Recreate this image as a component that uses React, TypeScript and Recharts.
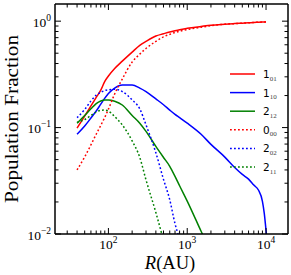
import React from 'react';
import { LineChart, Line, XAxis, YAxis, Legend } from 'recharts';

// ---------- data ----------
const rGrid = [40, 50, 60, 70, 80, 90, 100, 120, 150, 200, 250, 300, 400, 500, 600, 700, 800, 1000, 1500, 2000, 3000, 4000, 5000, 6000, 7000, 8000, 9000, 10000];
const blueR = [40, 50, 60, 70, 80, 90, 100, 120, 150, 200, 250, 300, 400, 500, 600, 700, 800, 1000, 1500, 2000, 3000, 4000, 5000, 6000, 7000, 8000, 9000, 9500, 9800, 10000, 10100, 10200];

const frac101 = [0.099, 0.128, 0.160, 0.192, 0.225, 0.272, 0.305, 0.359, 0.421, 0.512, 0.592, 0.645, 0.725, 0.762, 0.792, 0.814, 0.832, 0.856, 0.892, 0.917, 0.937, 0.949, 0.958, 0.965, 0.972, 0.977, 0.981, 0.985];
const frac000 = [0.040, 0.053, 0.0688, 0.0866, 0.105, 0.125, 0.149, 0.207, 0.286, 0.413, 0.490, 0.554, 0.646, 0.713, 0.752, 0.783, 0.805, 0.834, 0.877, 0.907, 0.937, 0.949, 0.958, 0.965, 0.972, 0.977, 0.981, 0.985];
const frac110 = [0.0866, 0.1035, 0.123, 0.143, 0.166, 0.189, 0.209, 0.235, 0.251, 0.251, 0.235, 0.218, 0.186, 0.164, 0.146, 0.133, 0.124, 0.110, 0.0865, 0.0695, 0.0528, 0.0421, 0.0363, 0.0328, 0.0288, 0.0259, 0.0203, 0.0156, 0.0126, 0.0108, 0.0099, 0.0085];
const frac202 = [0.124, 0.148, 0.178, 0.202, 0.214, 0.223, 0.226, 0.229, 0.218, 0.182, 0.150, 0.106, 0.058, 0.0326, 0.021, 0.0125, 0.0090];
const frac212 = [0.110, 0.130, 0.150, 0.168, 0.178, 0.182, 0.182, 0.177, 0.163, 0.130, 0.110, 0.0921, 0.0665, 0.0524, 0.0433, 0.0348, 0.0284, 0.0204, 0.0106, 0.0067];
const frac211 = [0.112, 0.119, 0.130, 0.140, 0.145, 0.146, 0.143, 0.127, 0.106, 0.075, 0.0524, 0.0322, 0.0159, 0.0087];

const xTicks = [30, 40, 50, 60, 70, 80, 90, 100, 200, 300, 400, 500, 600, 700, 800, 900, 1000, 2000, 3000, 4000, 5000, 6000, 7000, 8000, 9000, 10000];
const yTicks = [0.01, 0.02, 0.03, 0.04, 0.05, 0.06, 0.07, 0.08, 0.09, 0.1, 0.2, 0.3, 0.4, 0.5, 0.6, 0.7, 0.8, 0.9, 1];

const seriesNames = ['1|01', '1|10', '2|12', '0|00', '2|02', '2|11'];

const build = (rs: number[], vs: number[]) => vs.map((v, i) => ({ r: rs[i], v }));

const series = [
  { key: 's101', label: seriesNames[0], data: build(rGrid, frac101), color: '#ff0000', dash: undefined as string | undefined },
  { key: 's110', label: seriesNames[1], data: build(blueR, frac110), color: '#0000ff', dash: undefined },
  { key: 's212', label: seriesNames[2], data: build(rGrid, frac212), color: '#008000', dash: undefined },
  { key: 's000', label: seriesNames[3], data: build(rGrid, frac000), color: '#ff0000', dash: '1.8 2.2' },
  { key: 's202', label: seriesNames[4], data: build(rGrid, frac202), color: '#0000ff', dash: '1.8 2.2' },
  { key: 's211', label: seriesNames[5], data: build(rGrid, frac211), color: '#008000', dash: '1.8 2.2' },
];

// ---------- helpers ----------
const SERIF = '"Liberation Serif", "Times New Roman", serif';
const SANS = '"DejaVu Sans", "Liberation Sans", sans-serif';

const isMajor = (v: number) => Math.abs(Math.log10(v) - Math.round(Math.log10(v))) < 1e-6;
const expStr = (v: number) => {
  const e = Math.round(Math.log10(v));
  return e < 0 ? '\u2212' + Math.abs(e) : String(e);
};

const MAJOR = 6;
const MINOR = 3.5;
const TICK_W = 1;

const BottomTick = (props: any) => {
  const { x, y, payload } = props;
  const v = payload.value;
  const major = isMajor(v);
  return (
    <g>
      <line x1={x} x2={x} y1={y} y2={y - (major ? MAJOR : MINOR)} stroke="#000" strokeWidth={TICK_W} />
      {major && (
        <text x={x} y={y + 15} textAnchor="middle" fontFamily={SERIF} fontSize={13.5} fill="#000">
          10<tspan dy={-6} fontSize={9.5}>{expStr(v)}</tspan>
        </text>
      )}
    </g>
  );
};

const TopTick = (props: any) => {
  const { x, y, payload } = props;
  const major = isMajor(payload.value);
  return <line x1={x} x2={x} y1={y} y2={y + (major ? MAJOR : MINOR)} stroke="#000" strokeWidth={TICK_W} />;
};

const LeftTick = (props: any) => {
  const { x, y, payload } = props;
  const v = payload.value;
  const major = isMajor(v);
  return (
    <g>
      <line x1={x} x2={x + (major ? MAJOR : MINOR)} y1={y} y2={y} stroke="#000" strokeWidth={TICK_W} />
      {major && (
        <text x={x - 4} y={y + 5.5} textAnchor="end" fontFamily={SERIF} fontSize={13.5} fill="#000">
          10<tspan dy={-6} fontSize={9.5}>{expStr(v)}</tspan>
        </text>
      )}
    </g>
  );
};

const RightTick = (props: any) => {
  const { x, y, payload } = props;
  const major = isMajor(payload.value);
  return <line x1={x} x2={x - (major ? MAJOR : MINOR)} y1={y} y2={y} stroke="#000" strokeWidth={TICK_W} />;
};

const YLabel = (props: any) => {
  const vb = props.viewBox || { x: 0, y: 4, width: 55, height: 230 };
  const cx = vb.x + 17.5;
  const cy = vb.y + vb.height / 2;
  return (
    <text
      x={cx}
      y={cy}
      transform={`rotate(-90, ${cx}, ${cy})`}
      textAnchor="middle"
      fontFamily={SERIF}
      fontSize={19.5}
      fill="#000"
      textLength={168}
      lengthAdjust="spacingAndGlyphs"
    >
      Population Fraction
    </text>
  );
};

const XLabel = (props: any) => {
  const vb = props.viewBox || { x: 55, y: 234, width: 233, height: 41 };
  const cx = vb.x + vb.width / 2 - 1.5;
  return (
    <text x={cx} y={vb.y + 35} textAnchor="middle" fontFamily={SERIF} fontSize={18.5} fill="#000">
      <tspan fontStyle="italic">R</tspan>(AU)
    </text>
  );
};

const renderLegend = () => (
  <svg width={66} height={120} style={{ display: 'block', overflow: 'visible' }}>
    {series.map((s, i) => {
      const cy = 14 + i * 18.6;
      const [main, sub] = s.label.split('|');
      return (
        <g key={s.key}>
          <line x1={5} x2={30} y1={cy} y2={cy} stroke={s.color} strokeWidth={1.5} strokeDasharray={s.dash} />
          <text x={38} y={cy + 4} fontFamily={SANS} fontSize={10.5} fill="#000">
            {main}
            <tspan dy={2.5} fontSize={7} fontFamily={SERIF} fill="#444">{sub}</tspan>
          </text>
        </g>
      );
    })}
  </svg>
);

export default function App() {
  return (
    <div style={{ position: 'absolute', left: 0, top: 0, width: 291, height: 275, background: '#fff' }}>
      <LineChart width={291} height={275} margin={{ top: 3, right: 2, bottom: 0, left: 0 }}>
        <XAxis
          xAxisId="b"
          type="number"
          dataKey="r"
          scale="log"
          domain={[21, 19000]}
          allowDataOverflow
          ticks={xTicks}
          interval={0}
          orientation="bottom"
          height={41}
          tickSize={0}
          tickMargin={0}
          tickLine={false}
          tick={<BottomTick />}
          axisLine={{ stroke: '#000', strokeWidth: 1.5 }}
          label={{ content: XLabel }}
        />
        <XAxis
          xAxisId="t"
          type="number"
          dataKey="r"
          scale="log"
          domain={[21, 19000]}
          allowDataOverflow
          ticks={xTicks}
          interval={0}
          orientation="top"
          height={1}
          tickSize={0}
          tickMargin={0}
          tickLine={false}
          tick={<TopTick />}
          axisLine={{ stroke: '#000', strokeWidth: 1.5 }}
        />
        <YAxis
          yAxisId="l"
          type="number"
          scale="log"
          domain={[0.01, 1.45]}
          allowDataOverflow
          ticks={yTicks}
          interval={0}
          orientation="left"
          width={55}
          tickSize={0}
          tickMargin={0}
          tickLine={false}
          tick={<LeftTick />}
          axisLine={{ stroke: '#000', strokeWidth: 1.5 }}
          label={{ content: YLabel }}
        />
        <YAxis
          yAxisId="r"
          type="number"
          scale="log"
          domain={[0.01, 1.45]}
          allowDataOverflow
          ticks={yTicks}
          interval={0}
          orientation="right"
          width={1}
          tickSize={0}
          tickMargin={0}
          tickLine={false}
          tick={<RightTick />}
          axisLine={{ stroke: '#000', strokeWidth: 1.5 }}
        />
        {series.map((s) => (
          <Line
            key={s.key}
            xAxisId="b"
            yAxisId="l"
            data={s.data}
            dataKey="v"
            type="monotone"
            stroke={s.color}
            strokeWidth={1.5}
            strokeDasharray={s.dash}
            dot={false}
            activeDot={false}
            isAnimationActive={false}
          />
        ))}
        <Legend
          layout="horizontal"
          align="center"
          verticalAlign="middle"
          content={renderLegend}
          wrapperStyle={{ left: 225, top: 60, width: 66, height: 120 }}
        />
      </LineChart>
    </div>
  );
}
